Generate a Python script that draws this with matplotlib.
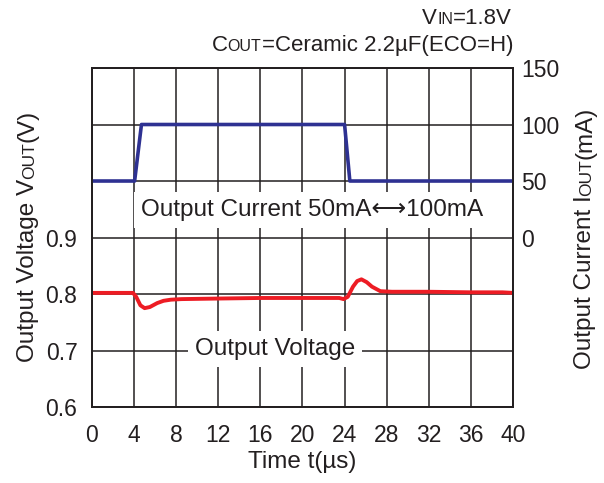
import matplotlib
matplotlib.use('Agg')
import matplotlib.pyplot as plt

plt.rcParams['font.family'] = ['Liberation Sans', 'DejaVu Sans']
plt.rcParams['font.size'] = 16

# Load current step (mA)
t_cur = [0, 4.05, 4.7, 24.0, 24.5, 40]
i_cur = [50, 50, 100, 100, 50, 50]

# Output voltage response (V)
t_vout = [0, 2, 3.9, 4.2, 4.6, 5.0, 5.5, 6.2, 6.8, 7.5, 8.5, 12, 16, 20, 23.5,
          23.9, 24.3, 24.8, 25.2, 25.6, 26.1, 26.6, 27.4, 28.5, 32, 36, 39, 40]
v_out = [0.802, 0.802, 0.802, 0.795, 0.780, 0.775, 0.777, 0.784, 0.788, 0.790,
         0.791, 0.792, 0.793, 0.793, 0.793, 0.791, 0.795, 0.813, 0.823, 0.826,
         0.821, 0.813, 0.805, 0.804, 0.804, 0.803, 0.803, 0.802]

x_ticks = list(range(0, 41, 4))
v_ticks = [0.6, 0.7, 0.8, 0.9, 1.0, 1.1, 1.2]
v_labels = ['0.6', '0.7', '0.8', '0.9', '', '', '']
i_ticks = [0, 50, 100, 150]

fig = plt.figure(figsize=(6.04, 4.83), dpi=100)
ax = fig.add_axes([0.1523, 0.1573, 0.6970, 0.7019])
ax2 = ax.twinx()

ax.plot(t_vout, v_out, color='#ed1c24', lw=2.8, solid_joinstyle='round')
ax2.plot(t_cur, i_cur, color='#2e3192', lw=2.6)

ax.set_xlim(0, 40)
ax.set_ylim(0.6, 1.2)
ax2.set_ylim(-150, 150)
ax.set_xticks(x_ticks)
ax.set_yticks(v_ticks)
ax.set_yticklabels(v_labels)
ax2.set_yticks(i_ticks)
ax.grid(True, color='#231f20', lw=1.1)
ax.tick_params(length=0, colors='#231f20', labelsize=16.5)
ax.tick_params(axis='y', pad=10.5)
ax.tick_params(axis='x', pad=12)
ax2.tick_params(length=0, colors='#231f20', labelsize=16.5, pad=6)
for a in (ax, ax2):
    for s in a.spines.values():
        s.set_color('#231f20')
        s.set_linewidth(1.3)

ax.set_xlabel('Time t(µs)', color='#231f20', fontsize=17.5, labelpad=3)

box = dict(facecolor='white', edgecolor='none', pad=5)
ax2.text(0.523, 0.581, 'Output Current 50mA\u27f7100mA', transform=ax.transAxes,
         ha='center', va='center', color='#231f20', fontsize=17.5, bbox=box, zorder=5)
ax2.text(0.435, 0.171, 'Output Voltage', transform=ax.transAxes,
         ha='center', va='center', color='#231f20', fontsize=17.5, bbox=box, zorder=5)

renderer = fig.canvas.get_renderer()


def rich(x, y, parts, rotation=0, align='left'):
    # draw text pieces one after another on a common baseline (figure fraction)
    texts = []
    pos = 0.0
    for s, size in parts:
        t = fig.text(x, y, s, fontsize=size, rotation=rotation, rotation_mode='anchor',
                     ha='left', va='baseline', color='#231f20')
        bb = t.get_window_extent(renderer)
        texts.append((t, pos))
        if rotation == 0:
            pos += bb.width / fig.bbox.width
        else:
            pos += bb.height / fig.bbox.height
    shift = 0.0
    if align == 'right':
        shift = -pos
    elif align == 'center':
        shift = -pos / 2
    for t, p in texts:
        if rotation == 0:
            t.set_position((x + p + shift, y))
        else:
            t.set_position((x, y + p + shift))


rich(512 / 604, 1 - 24 / 483, [('V', 16), ('IN', 11.5), ('=1.8V', 16)], align='right')
rich(513 / 604, 1 - 51 / 483, [('C', 16), ('OUT', 11.5), ('=Ceramic 2.2µF(ECO=H)', 16)],
     align='right')
rich(34 / 604, 1 - 236 / 483, [('Output Voltage V', 17.5), ('OUT', 12.5), ('(V)', 17.5)],
     rotation=90, align='center')
rich(591 / 604, 1 - 238 / 483, [('Output Current I', 17.5), ('OUT', 12.5), ('(mA)', 17.5)],
     rotation=90, align='center')

fig.savefig('out.png', dpi=100)
